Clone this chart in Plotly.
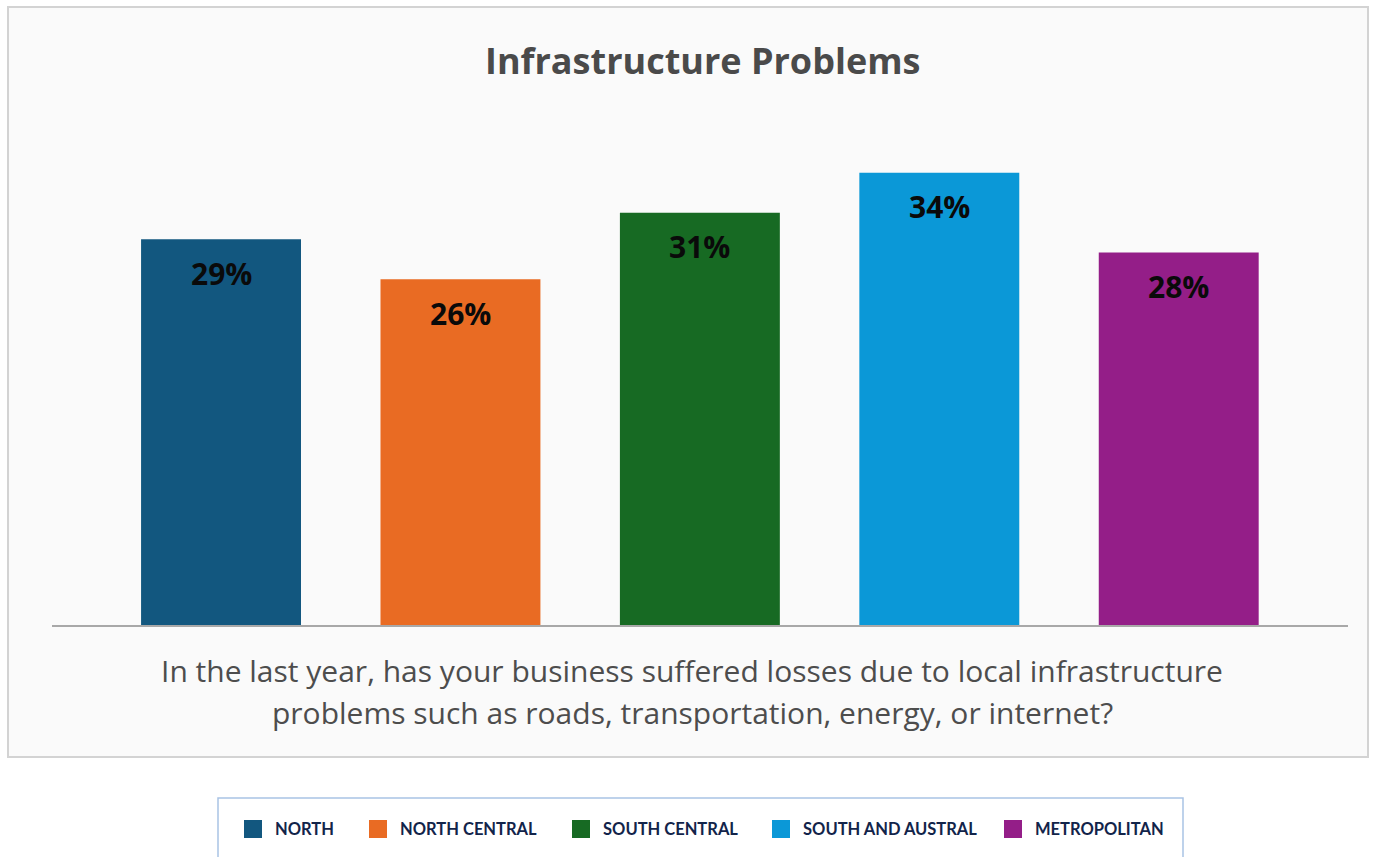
import plotly.graph_objects as go

# Survey results by region (share of businesses reporting losses, %)
regions = ["NORTH", "NORTH CENTRAL", "SOUTH CENTRAL", "SOUTH AND AUSTRAL", "METROPOLITAN"]
values = [29, 26, 31, 34, 28]
colors = ["#12577f", "#e96b23", "#176a23", "#0b98d7", "#941e88"]

title_text = "Infrastructure Problems"
question_lines = [
    "In the last year, has your business suffered losses due to local infrastructure",
    "problems such as roads, transportation, energy, or internet?",
]

W, H = 1373, 857
L, R, T, B = 52, 1348, 93, 625  # plot area in pixels


def px(x):
    return (x - L) / (R - L)


def py(y):
    return (B - y) / (B - T)


xs = list(range(len(regions)))

fig = go.Figure()
fig.add_trace(go.Bar(
    x=xs, y=values, width=0.668,
    marker=dict(color=colors, line=dict(width=0)),
    hoverinfo="skip", showlegend=False,
))

shapes = []
annotations = []

# card behind the chart
shapes.append(dict(type="rect", xref="paper", yref="paper", layer="below",
                   x0=px(8), x1=px(1368), y0=py(757), y1=py(7),
                   fillcolor="#fafafa", line=dict(color="#d3d3d3", width=2)))

annotations.append(dict(xref="paper", yref="paper", x=px(702), y=py(60),
                        text=f"<b>{title_text}</b>", showarrow=False,
                        xanchor="center", yanchor="middle",
                        font=dict(family="Open Sans", size=36, color="#4a4a4a")))

for i, line in enumerate(question_lines):
    annotations.append(dict(xref="paper", yref="paper", x=px(692), y=py(670 + 42 * i),
                            text=line, showarrow=False,
                            xanchor="center", yanchor="middle",
                            font=dict(family="Open Sans", size=30, color="#4d4d4d")))

# value labels inside the bars
for x, v in zip(xs, values):
    annotations.append(dict(x=x, y=v, xref="x", yref="y", text=f"<b>{v}%</b>",
                            showarrow=False, xanchor="center", yanchor="middle",
                            yshift=-34,
                            font=dict(family="Open Sans", size=30, color="#0a0a0a")))

# legend box
shapes.append(dict(type="rect", xref="paper", yref="paper",
                   x0=px(218), x1=px(1183), y0=py(880), y1=py(798),
                   fillcolor="#ffffff", line=dict(color="#a9c3e5", width=1.5)))
legend_x = [244, 369, 572, 772, 1004]
for lx, name, c in zip(legend_x, regions, colors):
    shapes.append(dict(type="rect", xref="paper", yref="paper",
                       x0=px(lx), x1=px(lx + 18), y0=py(838), y1=py(820),
                       fillcolor=c, line=dict(width=0)))
    annotations.append(dict(xref="paper", yref="paper", x=px(lx + 29), y=py(829),
                            text=f"<b>{name}</b>", showarrow=False,
                            xanchor="left", yanchor="middle",
                            font=dict(family="Lato", size=16.5, color="#12244a")))

fig.update_layout(
    width=W, height=H,
    margin=dict(l=L, r=W - R, t=T, b=H - B),
    paper_bgcolor="#ffffff", plot_bgcolor="rgba(0,0,0,0)",
    xaxis=dict(range=[-0.706, 4.707], showgrid=False, zeroline=False,
               showticklabels=False, ticks="", showline=True,
               linecolor="#a8a8a8", linewidth=2, fixedrange=True),
    yaxis=dict(range=[0, 40], visible=False, fixedrange=True),
    shapes=shapes, annotations=annotations, showlegend=False,
)

fig.write_html("out.html")
